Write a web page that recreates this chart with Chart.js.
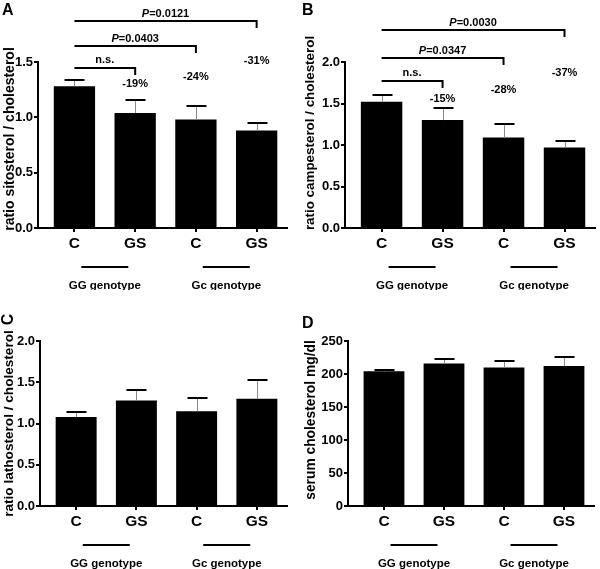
<!DOCTYPE html>
<html>
<head>
<meta charset="utf-8">
<script src="https://cdn.jsdelivr.net/npm/chart.js@4.4.0/dist/chart.umd.min.js"></script>
<style>
    body { margin: 0; background: #fff; }
    #wrap { position: relative; width: 600px; height: 569px; }
    canvas { position: absolute; }
</style>
</head>
<body>
<div id="wrap">
    <canvas id="chartA" width="300" height="290" style="left:0;top:0"></canvas>
    <canvas id="chartB" width="300" height="290" style="left:300px;top:0"></canvas>
    <canvas id="chartC" width="300" height="279" style="left:0;top:290px"></canvas>
    <canvas id="chartD" width="300" height="279" style="left:300px;top:290px"></canvas>
</div>
<script>
const GROUPS = ['C', 'GS', 'C', 'GS'];
const GENOTYPES = ['GG genotype', 'Gc genotype'];

const SITO_MEAN = [1.28, 1.04, 0.98, 0.88];
const SITO_SEM = [0.06, 0.115, 0.125, 0.067];
const SITO_CHANGE = ['', '-19%', '-24%', '-31%'];
const SITO_P = ['n.s.', 'P=0.0403', 'P=0.0121'];

const CAMPE_MEAN = [1.52, 1.30, 1.09, 0.97];
const CAMPE_SEM = [0.08, 0.15, 0.16, 0.08];
const CAMPE_CHANGE = ['', '-15%', '-28%', '-37%'];
const CAMPE_P = ['n.s.', 'P=0.0347', 'P=0.0030'];

const LATHO_MEAN = [1.08, 1.28, 1.15, 1.30];
const LATHO_SEM = [0.055, 0.13, 0.155, 0.225];

const CHOL_MEAN = [204, 216, 210, 212];
const CHOL_SEM = [2.5, 7, 10, 13.5];

const FONT = "'Liberation Sans', Arial, sans-serif";

const panels = [
    {
        id: 'chartA', w: 300, h: 290, area: { left: 38, right: 287, top: 62, bottom: 228 },
        yMax: 1.5, step: 0.5, dec: 1, mean: SITO_MEAN, sem: SITO_SEM,
        title: 'ratio sitosterol / cholesterol', titleSize: 14, titleX: 10, titleY: 139,
        letter: 'A', letterX: 2, letterY: 15,
        change: SITO_CHANGE, changeY: [0, 1.30, 1.364, 1.51],
        p: SITO_P, bracketY: [1.448, 1.647, 1.87]
    },
    {
        id: 'chartB', w: 300, h: 290, area: { left: 45, right: 295, top: 62, bottom: 228 },
        yMax: 2.0, step: 0.5, dec: 1, mean: CAMPE_MEAN, sem: CAMPE_SEM,
        title: 'ratio campesterol / cholesterol', titleSize: 13.4, titleX: 10, titleY: 133,
        letter: 'B', letterX: 2, letterY: 15,
        change: CAMPE_CHANGE, changeY: [0, 1.558, 1.667, 1.872],
        p: CAMPE_P, bracketY: [1.767, 2.045, 2.383]
    },
    {
        id: 'chartC', w: 300, h: 279, area: { left: 40, right: 287, top: 51, bottom: 216 },
        yMax: 2.0, step: 0.5, dec: 1, mean: LATHO_MEAN, sem: LATHO_SEM,
        title: 'ratio lathosterol / cholesterol', titleSize: 13.6, titleX: 9, titleY: 133.5,
        letter: 'C', letterX: 9, letterY: 29.5, letterRot: true
    },
    {
        id: 'chartD', w: 300, h: 279, area: { left: 48, right: 294, top: 51, bottom: 216 },
        yMax: 250, step: 50, dec: 0, mean: CHOL_MEAN, sem: CHOL_SEM,
        title: 'serum cholesterol mg/dl', titleSize: 13.8, titleX: 11, titleY: 130,
        letter: 'D', letterX: 2, letterY: 38
    }
];

const extrasPlugin = {
    id: 'extras',
    afterDatasetsDraw(chart) {
        const p = chart.options.plugins.extras.panel;
        const ctx = chart.ctx;
        const xs = chart.scales.x, ys = chart.scales.y;
        ctx.save();
        // error bars, upper arm only
        p.mean.forEach(function (m, i) {
            const x = Math.round(xs.getPixelForValue(i)) + 0.5;
            const yb = ys.getPixelForValue(m);
            const yt = Math.round(ys.getPixelForValue(m + p.sem[i]));
            ctx.strokeStyle = '#8a8a8a';
            ctx.lineWidth = 1;
            ctx.beginPath();
            ctx.moveTo(x, yb);
            ctx.lineTo(x, yt);
            ctx.stroke();
            ctx.strokeStyle = '#000';
            ctx.lineWidth = 2;
            ctx.beginPath();
            ctx.moveTo(x - 10, yt);
            ctx.lineTo(x + 10, yt);
            ctx.stroke();
        });
        ctx.restore();
    },
    afterDraw(chart) {
        const p = chart.options.plugins.extras.panel;
        const ctx = chart.ctx;
        const xs = chart.scales.x, ys = chart.scales.y;
        const bottom = chart.chartArea.bottom;
        ctx.save();
        ctx.fillStyle = '#000';
        ctx.strokeStyle = '#000';

        // y title
        ctx.save();
        ctx.translate(p.titleX, p.titleY);
        ctx.rotate(-Math.PI / 2);
        ctx.font = 'bold ' + p.titleSize + 'px ' + FONT;
        ctx.textAlign = 'center';
        ctx.textBaseline = 'middle';
        ctx.fillText(p.title, 0, 0);
        ctx.restore();

        // panel letter
        ctx.font = 'bold 16px ' + FONT;
        if (p.letterRot) {
            ctx.save();
            ctx.translate(p.letterX, p.letterY);
            ctx.rotate(-Math.PI / 2);
            ctx.textAlign = 'center';
            ctx.textBaseline = 'middle';
            ctx.fillText(p.letter, 0, 0);
            ctx.restore();
        } else {
            ctx.textAlign = 'left';
            ctx.textBaseline = 'alphabetic';
            ctx.fillText(p.letter, p.letterX, p.letterY);
        }

        // genotype group lines
        ctx.lineWidth = 2;
        ctx.font = 'bold 11.5px ' + FONT;
        ctx.textAlign = 'center';
        ctx.textBaseline = 'middle';
        GENOTYPES.forEach(function (g, k) {
            const xc = xs.getPixelForValue(k * 2 + 0.5);
            ctx.beginPath();
            ctx.moveTo(xc - 23.5, bottom + 39);
            ctx.lineTo(xc + 23.5, bottom + 39);
            ctx.stroke();
            ctx.fillText(g, xc, bottom + 58);
        });

        // percent changes
        if (p.change) {
            ctx.font = 'bold 11px ' + FONT;
            p.change.forEach(function (t, i) {
                if (!t) return;
                ctx.fillText(t, xs.getPixelForValue(i), ys.getPixelForValue(p.changeY[i]));
            });
        }

        // significance brackets
        if (p.p) {
            p.p.forEach(function (t, k) {
                const x0 = xs.getPixelForValue(0);
                const x1 = xs.getPixelForValue(k + 1);
                const y = Math.round(ys.getPixelForValue(p.bracketY[k]));
                ctx.lineWidth = 2;
                ctx.beginPath();
                ctx.moveTo(x0, y);
                ctx.lineTo(x1, y);
                ctx.lineTo(x1, y + 7);
                ctx.stroke();
                const xm = (x0 + x1) / 2;
                ctx.textBaseline = 'alphabetic';
                ctx.textAlign = 'left';
                if (t.startsWith('P')) {
                    const rest = t.slice(1);
                    ctx.font = 'italic bold 11px ' + FONT;
                    const wP = ctx.measureText('P').width;
                    ctx.font = 'bold 11px ' + FONT;
                    const wR = ctx.measureText(rest).width;
                    const x = xm - (wP + wR) / 2;
                    ctx.font = 'italic bold 11px ' + FONT;
                    ctx.fillText('P', x, y - 4);
                    ctx.font = 'bold 11px ' + FONT;
                    ctx.fillText(rest, x + wP, y - 4);
                } else {
                    ctx.font = 'bold 11px ' + FONT;
                    ctx.textAlign = 'center';
                    ctx.fillText(t, xm, y - 5);
                }
            });
        }
        ctx.restore();
    }
};

panels.forEach(function (p) {
    const ctx = document.getElementById(p.id).getContext('2d');
    new Chart(ctx, {
        type: 'bar',
        data: {
            datasets: [{
                data: p.mean.map(function (m, i) { return { x: i, y: m }; }),
                backgroundColor: '#000',
                borderWidth: 0,
                categoryPercentage: 1,
                barPercentage: 0.68
            }]
        },
        options: {
            responsive: false,
            animation: false,
            layout: {
                padding: { left: 0, top: p.area.top, right: p.w - p.area.right, bottom: 0 }
            },
            plugins: {
                legend: { display: false },
                tooltip: { enabled: false },
                extras: { panel: p }
            },
            scales: {
                x: {
                    type: 'linear',
                    offset: false,
                    min: -0.6,
                    max: 3.5,
                    afterBuildTicks: function (s) {
                        s.ticks = [0, 1, 2, 3].map(function (v) { return { value: v }; });
                    },
                    afterFit: function (s) { s.height = p.h - p.area.bottom; },
                    ticks: {
                        stepSize: 1,
                        autoSkip: false,
                        color: '#000',
                        padding: 2,
                        maxRotation: 0,
                        font: { family: FONT, weight: 'bold', size: 15.5 },
                        callback: function (v) { return GROUPS[v]; }
                    },
                    grid: { offset: false, drawOnChartArea: false, color: '#000', lineWidth: 2, tickLength: 4 },
                    border: { color: '#000', width: 2 }
                },
                y: {
                    min: 0,
                    max: p.yMax,
                    afterFit: function (s) { s.width = p.area.left; },
                    ticks: {
                        stepSize: p.step,
                        color: '#000',
                        padding: 1,
                        font: { family: FONT, weight: 'bold', size: 13 },
                        callback: function (v) { return v.toFixed(p.dec); }
                    },
                    grid: { drawOnChartArea: false, color: '#000', lineWidth: 2, tickLength: 4 },
                    border: { color: '#000', width: 2 }
                }
            }
        },
        plugins: [extrasPlugin]
    });
});
</script>
</body>
</html>
